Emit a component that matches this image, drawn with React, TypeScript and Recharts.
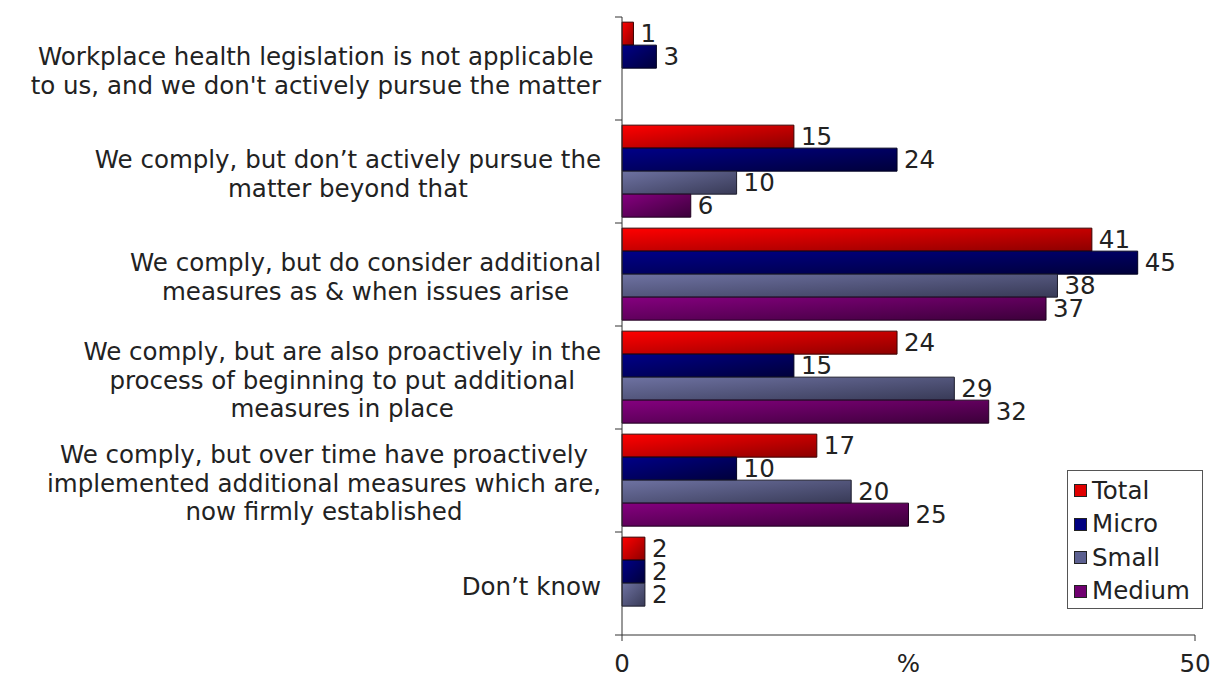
import React from 'react';
import { BarChart, Bar, XAxis, YAxis, Legend, LabelList } from 'recharts';

const categories = [
  "Workplace health legislation is not applicable\nto us, and we don't actively pursue the matter",
  'We comply, but don’t actively pursue the\nmatter beyond that',
  'We comply, but do consider additional\nmeasures as & when issues arise',
  'We comply, but are also proactively in the\nprocess of beginning to put additional\nmeasures in place',
  'We comply, but over time have proactively\nimplemented additional measures which are,\nnow firmly established',
  'Don’t know',
];

const total = [1, 15, 41, 24, 17, 2];
const micro = [3, 24, 45, 15, 10, 2];
const small = [null, 10, 38, 29, 20, 2];
const medium = [null, 6, 37, 32, 25, null];

const xTicks = [0, 50];

const series = [
  { key: 'Total', values: total, light: '#ff0000', dark: '#8c0000', stroke: '#3a0000', swatch: '#e00000' },
  { key: 'Micro', values: micro, light: '#000088', dark: '#00003a', stroke: '#000020', swatch: '#000080' },
  { key: 'Small', values: small, light: '#6e72a2', dark: '#383a56', stroke: '#1c1c2c', swatch: '#5c6090' },
  { key: 'Medium', values: medium, light: '#85007f', dark: '#3c003a', stroke: '#200020', swatch: '#700070' },
];

const data = categories.map((name, i) => {
  const row: Record<string, any> = { name };
  series.forEach((s) => {
    row[s.key] = s.values[i];
  });
  return row;
});

const FONT = '"DejaVu Sans", Verdana, sans-serif';
const FS = 24.5;
const TEXT = '#222';

const W = 1214;
const H = 678;
const TOP = 17;
const XAXIS_H = 43;
const BAND = (H - TOP - XAXIS_H) / categories.length;

let ctx: CanvasRenderingContext2D | null = null;
const measure = (s: string) => {
  if (!ctx && typeof document !== 'undefined') {
    ctx = document.createElement('canvas').getContext('2d');
  }
  if (!ctx) return s.length * 13;
  ctx.font = `${FS}px ${FONT}`;
  return ctx.measureText(s).width;
};

const CategoryTick = (props: any) => {
  const { x, y, payload, index } = props;
  const lines = String(payload.value).split('\n');
  const maxW = Math.max(...lines.map(measure));
  const right = x - 21;
  const cx = right - maxW / 2;
  const lh = 28.5;
  const startY = y + 2 - ((lines.length - 1) * lh) / 2;
  return (
    <g>
      <line x1={x - 7} y1={y - BAND / 2} x2={x} y2={y - BAND / 2} stroke="#333" />
      {index === categories.length - 1 && (
        <line x1={x - 7} y1={y + BAND / 2} x2={x} y2={y + BAND / 2} stroke="#333" />
      )}
      <text x={cx} y={startY} textAnchor="middle" dominantBaseline="central" fontFamily={FONT} fontSize={FS} fill={TEXT}>
        {lines.map((l, i) => (
          <tspan key={i} x={cx} y={startY + i * lh}>
            {l}
          </tspan>
        ))}
      </text>
    </g>
  );
};

const LegendBox = () => (
  <div
    style={{
      width: 134,
      height: 134,
      border: '1px solid #555',
      background: '#fff',
      boxSizing: 'content-box',
      paddingTop: 3,
    }}
  >
    {series.map((s) => (
      <div key={s.key} style={{ display: 'flex', alignItems: 'center', height: 33.5, paddingLeft: 6 }}>
        <div style={{ width: 11, height: 11, background: s.swatch, border: '1px solid #222', marginRight: 5 }} />
        <span style={{ fontFamily: FONT, fontSize: FS, color: TEXT, lineHeight: '28px' }}>{s.key}</span>
      </div>
    ))}
  </div>
);

export default function App() {
  return (
    <div style={{ position: 'absolute', left: 0, top: 0, background: '#fff' }}>
      <BarChart
        width={W}
        height={H}
        data={data}
        layout="vertical"
        margin={{ top: TOP, right: 19, bottom: 0, left: 0 }}
        barCategoryGap="5%"
        barGap={0}
      >
        <defs>
          {series.map((s) => (
            <linearGradient key={s.key} id={`grad-${s.key}`} x1="0" y1="0" x2="1" y2="1">
              <stop offset="0%" stopColor={s.light} />
              <stop offset="100%" stopColor={s.dark} />
            </linearGradient>
          ))}
        </defs>
        <XAxis
          type="number"
          domain={[0, 50]}
          ticks={xTicks}
          height={XAXIS_H}
          axisLine={{ stroke: '#333' }}
          tickLine={{ stroke: '#333' }}
          tickSize={6}
          tickMargin={14}
          tick={{ fontFamily: FONT, fontSize: FS, fill: TEXT }}
          label={{ value: '%', position: 'insideBottom', offset: 6, fontFamily: FONT, fontSize: FS, fill: TEXT }}
        />
        <YAxis
          type="category"
          dataKey="name"
          width={622}
          axisLine={{ stroke: '#333' }}
          tickLine={false}
          tickSize={0}
          tickMargin={0}
          tick={<CategoryTick />}
          interval={0}
        />
        <Legend
          layout="vertical"
          align="center"
          verticalAlign="middle"
          content={<LegendBox />}
          wrapperStyle={{ position: 'absolute', left: 1067, top: 470, width: 'auto' }}
        />
        {series.map((s) => (
          <Bar
            key={s.key}
            dataKey={s.key}
            fill={`url(#grad-${s.key})`}
            stroke={s.stroke}
            strokeWidth={1}
            isAnimationActive={false}
          >
            <LabelList dataKey={s.key} position="right" offset={7} fontFamily={FONT} fontSize={FS} fill={TEXT} />
          </Bar>
        ))}
      </BarChart>
    </div>
  );
}
